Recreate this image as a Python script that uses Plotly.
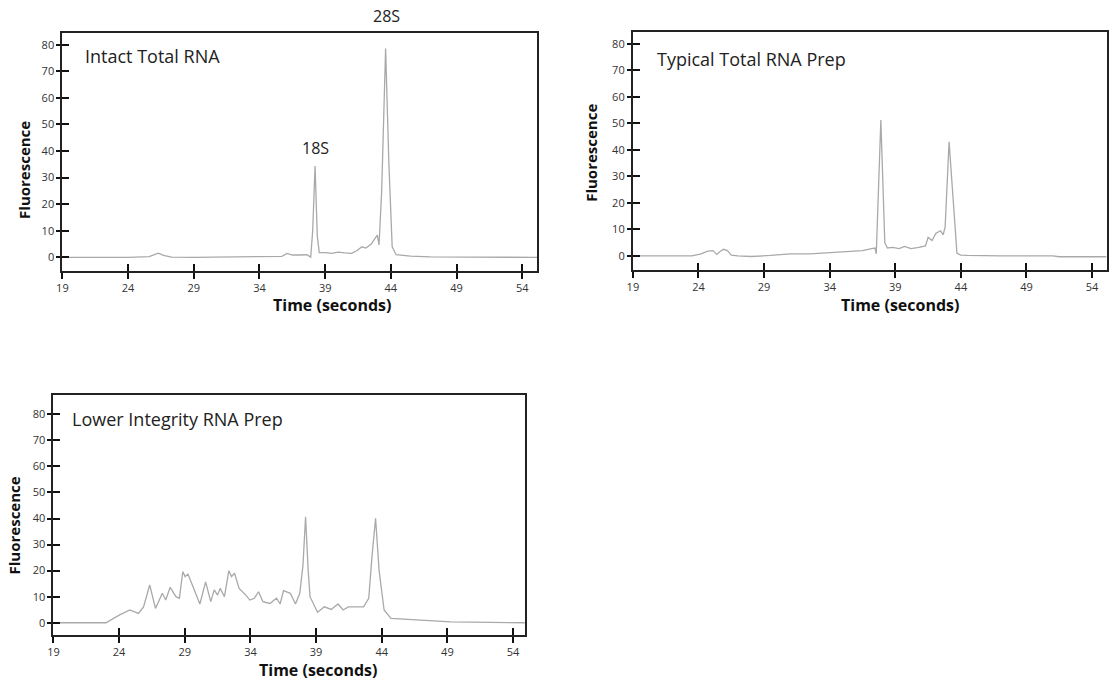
import plotly.graph_objects as go

# ---------------- data ----------------
x_intact = [19, 24, 25.6, 26.0, 26.3, 26.7, 27.3, 29, 32, 34.5, 35.7, 36.1, 36.5, 37.0, 37.6, 37.9,
            38.05, 38.23, 38.4, 38.55, 39.0, 39.5, 40.0, 40.5, 41.0, 41.4, 41.8, 42.1, 42.5, 42.85,
            42.97, 43.1, 43.3, 43.6, 43.85, 44.1, 44.4, 45.5, 47, 55.13]
y_intact = [0, 0, 0.3, 1.0, 1.6, 0.8, 0.1, 0, 0.3, 0.5, 0.4, 1.5, 0.9, 0.9, 1.0, 0.1,
            10, 34.4, 8, 1.8, 1.8, 1.5, 2.0, 1.7, 1.5, 2.5, 4.0, 3.5, 5.0, 7.5,
            8.4, 4.7, 25, 78.6, 35, 4, 1.0, 0.5, 0.2, 0]

x_typical = [19, 23.5, 24.2, 24.7, 25.1, 25.4, 25.6, 25.9, 26.2, 26.5, 27, 28, 29.5, 31, 32.5, 34,
             35.5, 36.5, 37.2, 37.45, 37.55, 37.9, 38.2, 38.4, 38.8, 39.3, 39.7, 40.2, 40.8, 41.3,
             41.5, 41.8, 42.1, 42.45, 42.65, 42.8, 43.1, 43.45, 43.7, 44.0, 44.5, 47, 51, 51.5, 55.1]
y_typical = [0, 0, 0.8, 1.8, 2.0, 0.6, 1.5, 2.5, 2.0, 0.3, 0, -0.2, 0.2, 0.8, 0.8, 1.2,
             1.8, 2.0, 2.8, 3.0, 0.8, 51.3, 5, 3.0, 3.2, 2.8, 3.6, 2.8, 3.2, 3.8,
             7.0, 5.8, 8.6, 9.5, 8.0, 11.0, 43.1, 20, 1.0, 0.3, 0.2, 0, 0, -0.3, -0.3]

x_lower = [19, 23.0, 24.04, 24.82, 25.47, 25.86, 26.33, 26.77, 27.29, 27.55, 27.89, 28.33, 28.59,
           28.85, 29.03, 29.24, 29.63, 30.15, 30.59, 30.98, 31.24, 31.5, 31.7, 32.02, 32.36, 32.56,
           32.79, 33.14, 33.65, 33.96, 34.3, 34.62, 34.95, 35.48, 35.99, 36.26, 36.52, 37.04, 37.43,
           37.76, 38.0, 38.2, 38.4, 38.54, 39.11, 39.63, 40.15, 40.67, 41.06, 41.45, 42.62, 43.01,
           43.25, 43.53, 43.8, 44.18, 44.7, 46.65, 49.25, 54.9]
y_lower = [0, 0, 3.0, 4.9, 3.6, 6.1, 14.5, 5.5, 11.3, 8.7, 13.6, 10, 9.4,
           19.6, 17.7, 18.7, 13.8, 7.2, 15.7, 8.1, 12.6, 10.6, 13.2, 10, 20, 17.7,
           19, 13.2, 10.6, 8.7, 9.4, 11.9, 8.1, 7.4, 9.4, 7.2, 12.3, 11.3, 7.2,
           11.3, 22, 40.7, 20, 10, 4.0, 6.1, 5.1, 7.2, 4.9, 6.1, 6.1, 9.4,
           25, 40.1, 20, 4.9, 1.7, 1.0, 0.3, 0]

x_ticks = [19, 24, 29, 34, 39, 44, 49, 54]
y_ticks = [0, 10, 20, 30, 40, 50, 60, 70, 80]

panel_titles = ["Intact Total RNA", "Typical Total RNA Prep", "Lower Integrity RNA Prep"]
peak_labels = ["18S", "28S"]
peak_label_x = [38.3, 43.7]

# ---------------- layout helpers ----------------
W, H = 1110, 683
def px(v):
    return v / W
def py(v):
    return 1 - v / H

FONT = "'Open Sans', Lato, sans-serif"
LINE_COLOR = "#a9a9a9"

panels = [
    dict(xs=x_intact, ys=y_intact, dom_x=[56.7, 534], dom_y=[33, 270.7], xr=[19, 55.13], yr=[-5.0, 84.4]),
    dict(xs=x_typical, ys=y_typical, dom_x=[630.3, 1106.5], dom_y=[31.7, 270], xr=[19, 55.1], yr=[-5.3, 84.6]),
    dict(xs=x_lower, ys=y_lower, dom_x=[47.7, 521.7], dom_y=[395, 635], xr=[19, 54.9], yr=[-4.7, 87.4]),
]

fig = go.Figure()
layout = dict(
    width=W, height=H,
    margin=dict(l=0, r=0, t=0, b=0),
    paper_bgcolor="white", plot_bgcolor="white",
    showlegend=False,
    font=dict(family=FONT, color="#222"),
)

for i, p in enumerate(panels):
    n = i + 1
    ov = i + 4
    xa = "x" if n == 1 else f"x{n}"
    ya = "y" if n == 1 else f"y{n}"
    xk = "xaxis" if n == 1 else f"xaxis{n}"
    yk = "yaxis" if n == 1 else f"yaxis{n}"

    fig.add_trace(go.Scatter(x=p["xs"], y=p["ys"], mode="lines",
                             line=dict(color=LINE_COLOR, width=1.3),
                             xaxis=xa, yaxis=ya, hoverinfo="skip"))
    # overlay axes carry the inner half of the crossing ticks
    fig.add_trace(go.Scatter(x=[], y=[], mode="lines", xaxis=f"x{ov}", yaxis=f"y{ov}",
                             hoverinfo="skip"))

    dx = [px(p["dom_x"][0]), px(p["dom_x"][1])]
    dy = [py(p["dom_y"][1]), py(p["dom_y"][0])]

    layout[xk] = dict(domain=dx, range=p["xr"], anchor=ya, tickmode="array", tickvals=x_ticks,
                      ticks="outside", ticklen=6, tickwidth=2, tickcolor="#111",
                      showline=True, linewidth=2, linecolor="#222", mirror=True,
                      showgrid=False, zeroline=False,
                      tickfont=dict(size=11, color="#333", family=FONT))
    layout[yk] = dict(domain=dy, range=p["yr"], anchor=xa, tickmode="array", tickvals=y_ticks,
                      ticks="outside", ticklen=4, tickwidth=2, tickcolor="#111",
                      showline=True, linewidth=2, linecolor="#222", mirror=True,
                      showgrid=False, zeroline=False,
                      tickfont=dict(size=11, color="#333", family=FONT))
    layout[f"xaxis{ov}"] = dict(overlaying=xa, range=p["xr"], anchor=f"y{ov}", tickmode="array",
                                tickvals=x_ticks, ticks="inside", ticklen=7, tickwidth=2,
                                tickcolor="#111", showticklabels=False, showline=False,
                                showgrid=False, zeroline=False)
    layout[f"yaxis{ov}"] = dict(overlaying=ya, range=p["yr"], anchor=f"x{ov}", tickmode="array",
                                tickvals=y_ticks, ticks="inside", ticklen=7, tickwidth=2,
                                tickcolor="#111", showticklabels=False, showline=False,
                                showgrid=False, zeroline=False)

fig.update_layout(**layout)

# panel titles
title_pos = [(77, 55.7), (653, 59.3), (64, 419.3)]
for t, (tx, ty) in zip(panel_titles, title_pos):
    fig.add_annotation(text=t, x=px(tx), y=py(ty), xref="paper", yref="paper",
                       xanchor="left", yanchor="middle", showarrow=False,
                       font=dict(size=18, color="#222", family=FONT))

# axis titles
xtitle_pos = [(328, 305), (899, 305), (314, 670)]
ytitle_pos = [(18, 170), (588, 153), (8.5, 525)]
for (tx, ty) in xtitle_pos:
    fig.add_annotation(text="<b>Time (seconds)</b>", x=px(tx), y=py(ty), xref="paper", yref="paper",
                       xanchor="center", yanchor="middle", showarrow=False,
                       font=dict(size=16, color="#111", family=FONT))
for (tx, ty) in ytitle_pos:
    fig.add_annotation(text="<b>Fluorescence</b>", x=px(tx), y=py(ty), xref="paper", yref="paper",
                       xanchor="center", yanchor="middle", showarrow=False, textangle=-90,
                       font=dict(size=15, color="#111", family=FONT))

# peak labels (x on the data axis, y in page position)
peak_label_py = [147.7, 16]
for lab, lx, ly in zip(peak_labels, peak_label_x, peak_label_py):
    fig.add_annotation(text=lab, x=lx, y=py(ly), xref="x", yref="paper", xanchor="center",
                       yanchor="middle", showarrow=False,
                       font=dict(size=16, color="#222", family=FONT))

# remove the default 8px page margin so the figure fills the window exactly
fig.write_html("out.html", config={"displayModeBar": False},
               post_script="document.body.style.margin='0';document.body.style.overflow='hidden';")
